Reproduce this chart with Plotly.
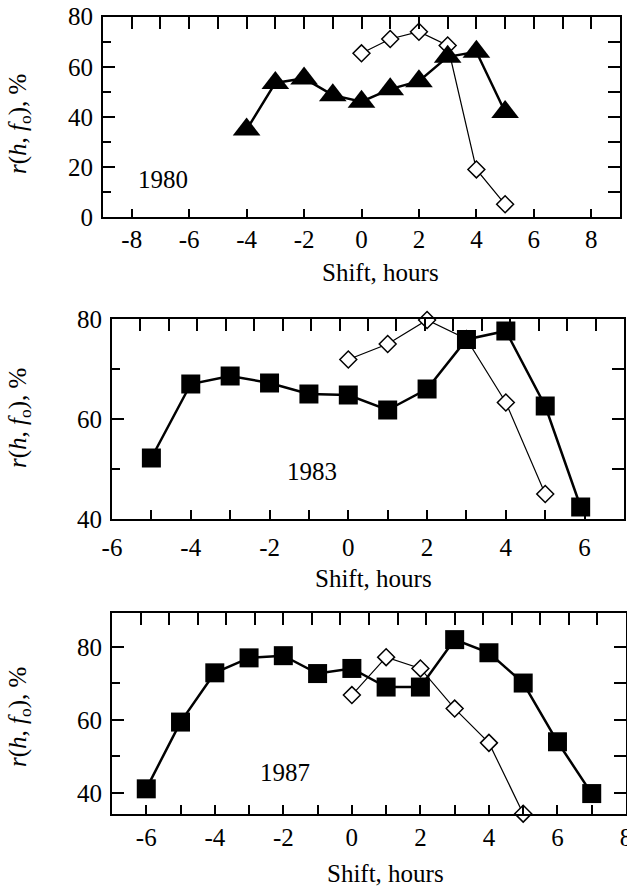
import plotly.graph_objects as go

# ---------------- data ----------------
shift_1980_tri = [-4, -3, -2, -1, 0, 1, 2, 3, 4, 5]
r_1980_tri = [35, 53.6, 55.4, 48.7, 46.1, 51.1, 54.3, 64.0, 66.0, 42.0]
shift_1980_dia = [0, 1, 2, 3, 4, 5]
r_1980_dia = [65.4, 71.1, 74.0, 68.5, 19.1, 5.2]

shift_1983_sq = [-5, -4, -3, -2, -1, 0, 1, 2, 3, 4, 5, 5.9]
r_1983_sq = [52.2, 67.0, 68.6, 67.2, 65.0, 64.8, 61.8, 66.0, 75.9, 77.6, 62.6, 42.4]
shift_1983_dia = [0, 1, 2, 3, 4, 5]
r_1983_dia = [71.9, 75.0, 79.8, 76.0, 63.3, 45.0]

shift_1987_sq = [-6, -5, -4, -3, -2, -1, 0, 1, 2, 3, 4, 5, 6, 7]
r_1987_sq = [41.1, 59.4, 72.9, 77.0, 77.6, 72.7, 74.1, 69.0, 69.0, 82.0, 78.4, 70.1, 54.0, 39.8]
shift_1987_dia = [0, 1, 2, 3, 4, 5]
r_1987_dia = [66.8, 77.2, 74.1, 63.1, 53.7, 34.3]

years = ["1980", "1983", "1987"]
x_tickvals_1 = [-8, -6, -4, -2, 0, 2, 4, 6, 8]
x_ticktext_1 = ["-8", "-6", "-4", "-2", "0", "2", "4", "6", "8"]
x_tickvals_2 = [-6, -4, -2, 0, 2, 4, 6]
x_ticktext_2 = ["-6", "-4", "-2", "0", "2", "4", "6"]
x_tickvals_3 = [-6, -4, -2, 0, 2, 4, 6, 8]
x_ticktext_3 = ["-6", "-4", "-2", "0", "2", "4", "6", "8"]
y_tickvals_1 = [0, 20, 40, 60, 80]
y_tickvals_23 = [40, 60, 80]
xlabel = "Shift, hours"
ylabel = "<i>r</i>(<i>h</i>, <i>f</i><sub>o</sub>), %"

# ---------------- figure ----------------
W, H = 627, 886
FONT = "'Liberation Serif', 'Times New Roman', Times, serif"
fig = go.Figure()


def thin(x, y, xa, ya):
    fig.add_trace(go.Scatter(
        x=x, y=y, xaxis=xa, yaxis=ya, mode="lines+markers",
        line=dict(color="black", width=1.2),
        marker=dict(symbol="diamond", size=13, color="white",
                    line=dict(color="black", width=1.5)),
        showlegend=False, cliponaxis=False))


def thick(x, y, xa, ya, sym, size):
    fig.add_trace(go.Scatter(
        x=x, y=y, xaxis=xa, yaxis=ya, mode="lines+markers",
        line=dict(color="black", width=2.5),
        marker=dict(symbol=sym, size=size, color="black",
                    line=dict(width=0)),
        showlegend=False, cliponaxis=False))


thin(shift_1980_dia, r_1980_dia, "x", "y")
thick(shift_1980_tri, r_1980_tri, "x", "y", "triangle-up", 24)
thin(shift_1983_dia, r_1983_dia, "x2", "y2")
thick(shift_1983_sq, r_1983_sq, "x2", "y2", "square", 19)
thin(shift_1987_dia, r_1987_dia, "x3", "y3")
thick(shift_1987_sq, r_1987_sq, "x3", "y3", "square", 19)

panels = [
    dict(xp=(103, 620), yp=(16.7, 217.3), xr=[-9, 9], yr=[0, 80],
         tv=x_tickvals_1, tt=x_ticktext_1, ytv=y_tickvals_1, xminor=False, so=-1),
    dict(xp=(112, 624), yp=(319, 519), xr=[-6, 7], yr=[40, 80],
         tv=x_tickvals_2, tt=x_ticktext_2, ytv=y_tickvals_23, xminor=True, so=5),
    dict(xp=(112, 626), yp=(613, 814), xr=[-7, 8], yr=[34.2, 89.3],
         tv=x_tickvals_3, tt=x_ticktext_3, ytv=y_tickvals_23, xminor=True, so=0),
]

tickfont = dict(family=FONT, size=25, color="black")
layout = dict()
for i, p in enumerate(panels):
    n = i + 1
    sfx = "" if n == 1 else str(n)
    xd = [p["xp"][0] / W, p["xp"][1] / W]
    yd = [1 - p["yp"][1] / H, 1 - p["yp"][0] / H]
    xa = dict(domain=xd, range=p["xr"], anchor="y" + sfx, showgrid=False,
              zeroline=False, showline=True, linecolor="black", linewidth=1.8,
              mirror=True, ticks="inside", ticklen=8, tickwidth=1.5,
              tickcolor="black", tickmode="array", tickvals=p["tv"],
              ticktext=p["tt"], tickfont=tickfont, ticklabelstandoff=p["so"],
              ticklabeloverflow="allow", automargin=False)
    if p["xminor"]:
        xa["ticklen"] = 9
        xa["minor"] = dict(ticks="inside", dtick=1, tick0=0, ticklen=9,
                           tickwidth=1.5, tickcolor="black", showgrid=False)
    ya = dict(domain=yd, range=p["yr"], anchor="x" + sfx, showgrid=False,
              zeroline=False, showline=True, linecolor="black", linewidth=1.8,
              mirror=True, ticks="inside", ticklen=12, tickwidth=1.5,
              tickcolor="black", tickmode="array", tickvals=p["ytv"],
              tickfont=tickfont, ticklabelstandoff=3, automargin=False,
              ticklabeloverflow="allow",
              minor=dict(ticks="inside", dtick=10, tick0=0, ticklen=8,
                         tickwidth=1.5, tickcolor="black", showgrid=False))
    layout["xaxis" + sfx] = xa
    layout["yaxis" + sfx] = ya
    layout["xaxis" + str(n + 3)] = dict(
        domain=xd, range=[-9, 9], overlaying="x" + sfx, anchor="y" + sfx,
        side="top", showgrid=False, zeroline=False, showline=False,
        ticks="inside", ticklen=12, tickwidth=1.5, tickcolor="black",
        dtick=1, tick0=0, showticklabels=False, automargin=False)
    layout["yaxis" + str(n + 3)] = dict(
        domain=yd, range=p["yr"], overlaying="y" + sfx, anchor="x" + sfx,
        side="right", showgrid=False, zeroline=False, showline=False,
        ticks="inside", ticklen=12, tickwidth=1.5, tickcolor="black",
        dtick=10, tick0=0, showticklabels=False, automargin=False)

for n in range(4, 7):
    fig.add_trace(go.Scatter(x=[None], y=[None], xaxis="x" + str(n),
                             yaxis="y" + str(n), showlegend=False,
                             hoverinfo="skip"))

annots = []
xlabel_pos = [(380, 272), (373, 578), (385, 873)]
ylabel_pos = [(19, 124), (19, 418), (19, 717)]
year_pos = [(163, 180), (312, 472), (285, 772)]
for k in range(3):
    annots.append(dict(text=xlabel, x=xlabel_pos[k][0] / W, y=1 - xlabel_pos[k][1] / H,
                       xref="paper", yref="paper", showarrow=False,
                       xanchor="center", yanchor="middle",
                       font=dict(family=FONT, size=25, color="black")))
    annots.append(dict(text=ylabel, x=ylabel_pos[k][0] / W, y=1 - ylabel_pos[k][1] / H,
                       xref="paper", yref="paper", showarrow=False, textangle=-90,
                       xanchor="center", yanchor="middle",
                       font=dict(family=FONT, size=25, color="black")))
    annots.append(dict(text=years[k], x=year_pos[k][0] / W, y=1 - year_pos[k][1] / H,
                       xref="paper", yref="paper", showarrow=False,
                       xanchor="center", yanchor="middle",
                       font=dict(family=FONT, size=25, color="black")))

fig.update_layout(
    width=W, height=H, margin=dict(l=0, r=0, t=0, b=0, autoexpand=False),
    paper_bgcolor="white", plot_bgcolor="white",
    annotations=annots, **layout)

fig.write_html("out.html")
